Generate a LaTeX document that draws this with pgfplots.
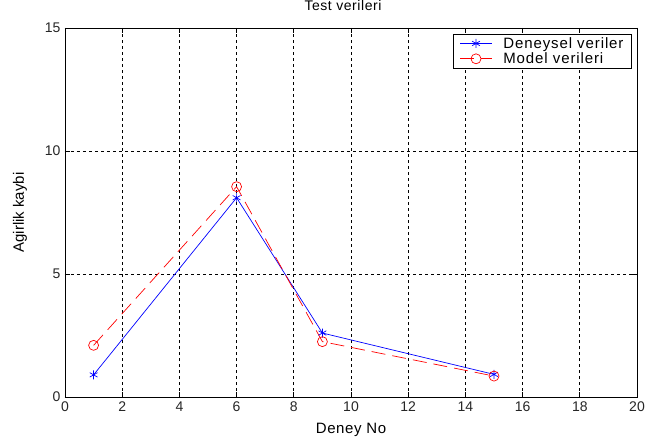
\documentclass[border=0pt]{standalone}
\usepackage{pgfplots}
\pgfplotsset{compat=1.18}
\usepackage{fontspec}
\setmainfont{Liberation Sans}
\newfontfamily\legfont[LetterSpace=6]{Liberation Sans}
\newfontfamily\labfont[LetterSpace=4]{Liberation Sans}
\begin{document}
\begin{tikzpicture}
\begin{axis}[
  scale only axis,
  width=572pt, height=369pt,
  xmin=0, xmax=20, ymin=0, ymax=15,
  xtick={0,2,...,20}, ytick={0,5,10,15},
  tick align=inside,
  xtick pos=both, ytick pos=both,
  major tick length=5pt,
  grid=major,
  major grid style={black, dash pattern=on 3pt off 3pt, line width=0.7pt},
  axis line style={black, line width=0.7pt},
  tick style={black, line width=0.7pt},
  /pgf/number format/assume math mode=true,
  ticklabel style={font=\fontsize{14}{16}\selectfont, text=black!85},
  xticklabel style={yshift=-1pt},
  yticklabel style={xshift=-1pt},
  title={Test verileri},
  title style={font=\labfont\fontsize{14}{16}\selectfont, at={(axis description cs:0.486,1)}, anchor=center, yshift=16pt},
  xlabel={Deney No},
  ylabel={Agirlik kaybi},
  xlabel style={font=\labfont\fontsize{15}{17}\selectfont, at={(axis description cs:0.5,0)}, anchor=center, yshift=-33pt},
  ylabel style={font=\fontsize{15}{17}\selectfont, at={(axis description cs:-0.0787,0.5)}, anchor=center},
  legend style={at={(0.991,0.984)}, anchor=north east, draw=black, line width=0.7pt,
    font=\legfont\fontsize{15}{17}\selectfont, inner xsep=6pt, inner ysep=1pt, row sep=-1pt,
    /tikz/every odd column/.append style={column sep=9pt},
    /tikz/every even column/.append style={column sep=6pt}},
  legend cell align=left,
  legend image code/.code={\draw[#1] (0pt,0pt) -- (32pt,0pt); \draw[#1, mark repeat=2, mark phase=2] plot coordinates {(0pt,0pt) (16pt,0pt) (32pt,0pt)};},
]
\addplot[blue, line width=0.7pt, mark=asterisk, mark size=4.5pt, mark options={solid}]
  coordinates {(1,0.9) (6,8.1) (9,2.6) (15,0.92)};
\addlegendentry{Deneysel veriler}
\addplot[red, line width=0.7pt, dash pattern=on 14pt off 7pt, mark=o, mark size=5pt, mark options={solid}]
  coordinates {(1,2.1) (6,8.55) (9,2.25) (15,0.85)};
\addlegendentry{Model verileri}
\end{axis}
\pgfresetboundingbox
\path (current axis.south west) ++(-65pt,-44pt) coordinate (bl);
\path (current axis.north east) ++(9pt,28pt) coordinate (tr);
\path[use as bounding box] (bl) rectangle (tr);
\end{tikzpicture}
\end{document}
